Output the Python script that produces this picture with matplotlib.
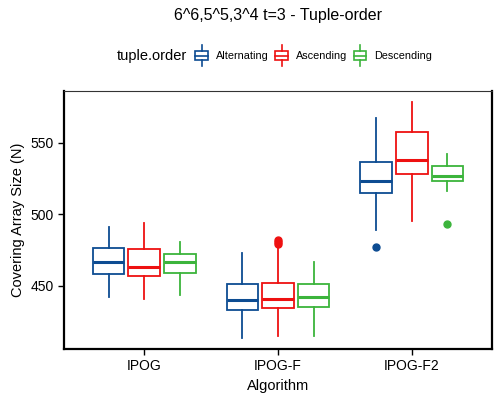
import numpy as np
import matplotlib
matplotlib.use('Agg')
import matplotlib.pyplot as plt
from matplotlib.patches import Rectangle
from matplotlib.lines import Line2D
from matplotlib.legend_handler import HandlerBase

plt.rcParams['font.family'] = ['Liberation Sans', 'DejaVu Sans']

algorithms = ['IPOG', 'IPOG-F', 'IPOG-F2']
orders = ['Alternating', 'Ascending', 'Descending']
colors = ['#0D4C92', '#EE1111', '#3CB43C']

# five-number summaries: [whislo, q1, med, q3, whishi]
alternating = [[442, 458.6, 466.5, 476.7, 491],
               [414, 433, 440.4, 451.4, 473],
               [489, 515, 523, 536.5, 567]]
ascending = [[441, 457.2, 463.5, 475.8, 494],
             [415, 434.6, 440.9, 452.3, 478],
             [495, 528, 537.7, 557.7, 578]]
descending = [[444, 459.3, 467, 472.1, 480.5],
              [415, 435.1, 442.5, 451.2, 467],
              [516, 523.1, 527, 534, 542]]
fliers_alt = [[], [], [477]]
fliers_asc = [[], [479, 480.5, 482], []]
fliers_desc = [[], [], [493]]

series = [(alternating, fliers_alt), (ascending, fliers_asc), (descending, fliers_desc)]


class BoxKey(HandlerBase):
    # little boxplot glyph for the legend
    def create_artists(self, legend, orig, xd, yd, w, h, fontsize, trans):
        c = orig.get_color()
        x0, y0 = -xd, -yd - 0.1 * h
        bh = 1.1 * h
        r = Rectangle((x0 + 0.05 * w, y0), 0.9 * w, bh, facecolor='white',
                      edgecolor=c, linewidth=1.2, transform=trans)
        m = Line2D([x0 + 0.05 * w, x0 + 0.95 * w], [y0 + 0.5 * bh] * 2, color=c, lw=1.2, transform=trans)
        t = Line2D([x0 + 0.5 * w] * 2, [y0 + bh, y0 + bh + 0.8 * h], color=c, lw=1.2, transform=trans)
        b = Line2D([x0 + 0.5 * w] * 2, [y0 - 0.8 * h, y0], color=c, lw=1.2, transform=trans)
        return [r, m, t, b]


fig = plt.figure(figsize=(5, 4), dpi=100)
ax = fig.add_axes([0.128, 0.1275, 0.856, 0.645])

offsets = [-0.267, 0.0, 0.267]
for k, (stats, fl) in enumerate(series):
    bstats = []
    for i, s in enumerate(stats):
        bstats.append(dict(whislo=s[0], q1=s[1], med=s[2], q3=s[3], whishi=s[4],
                           fliers=fl[i]))
    pos = np.arange(len(algorithms)) + offsets[k]
    c = colors[k]
    ax.bxp(bstats, positions=pos, widths=0.236, showcaps=False, patch_artist=True,
           boxprops=dict(facecolor='white', edgecolor=c, linewidth=1.3),
           whiskerprops=dict(color=c, linewidth=1.3),
           medianprops=dict(color=c, linewidth=2.2),
           flierprops=dict(marker='o', markerfacecolor=c, markeredgecolor=c, markersize=5))

ax.set_xlim(-0.6, 2.6)
ax.set_ylim(406, 586)
ax.set_xticks(range(len(algorithms)))
ax.set_xticklabels(algorithms, fontsize=10)
ax.set_yticks([450, 500, 550])
ax.tick_params(axis='y', labelsize=10, length=4, width=1)
ax.tick_params(axis='x', length=4, width=1)
for side in ['left', 'bottom', 'right']:
    ax.spines[side].set_linewidth(1.6)
ax.spines['top'].set_linewidth(0.8)
ax.spines['top'].set_color('#333333')
ax.set_xlabel('Algorithm', fontsize=10.5)
ax.set_ylabel('Covering Array Size (N)', fontsize=10.5)

fig.text(0.556, 0.962, '6^6,5^5,3^4 t=3 - Tuple-order', ha='center', va='center', fontsize=11.5)

handles = [Line2D([], [], color=c) for c in colors]
fig.text(0.375, 0.86, 'tuple.order', ha='right', va='center', fontsize=10.5)
fig.legend(handles, orders, loc='center left', bbox_to_anchor=(0.37, 0.86), ncol=3,
           frameon=False, fontsize=7.8, handletextpad=0.7, columnspacing=0.5,
           handlelength=1.3, handler_map={Line2D: BoxKey()})

fig.savefig('out.png', dpi=100)
